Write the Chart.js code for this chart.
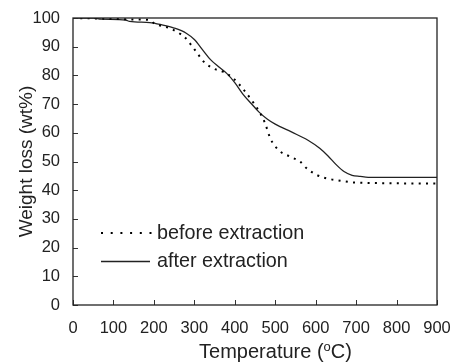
<!DOCTYPE html>
<html>
<head>
<meta charset="utf-8">
<script src="https://cdn.jsdelivr.net/npm/chart.js@4/dist/chart.umd.min.js"></script>
<style>
  html, body { margin: 0; padding: 0; background: #fff; }
  canvas { display: block; }
</style>
</head>
<body>
<canvas id="c" width="453" height="363"></canvas>
<script>
// ---- Data ----
const seriesNames = ['before extraction', 'after extraction'];

const beforeTemp   = [0, 100, 150, 190, 200, 240, 265, 275, 290, 306, 323, 347, 372, 397, 422, 446, 463, 475, 488, 508, 537, 562, 578, 603, 628, 661, 694, 750, 800, 900];
const beforeWeight = [100, 99.7, 99.5, 99.3, 98.2, 96.4, 94.5, 93.5, 91.0, 88.0, 84.8, 82.4, 81.2, 78.9, 75.0, 70.5, 66.8, 63.3, 58.0, 54.0, 51.7, 49.9, 47.6, 45.3, 44.1, 43.3, 42.7, 42.5, 42.4, 42.3];

const afterTemp   = [0, 50, 70, 130, 140, 190, 220, 250, 280, 300, 320, 340, 360, 380, 400, 420, 440, 460, 480, 500, 540, 580, 610, 630, 650, 670, 690, 710, 730, 900];
const afterWeight = [100, 100, 99.6, 99.3, 98.8, 98.4, 97.6, 96.5, 94.7, 92.5, 89.0, 85.5, 83.0, 80.7, 77.5, 73.5, 70.3, 67.2, 64.8, 63.0, 60.3, 57.5, 54.6, 52.0, 49.0, 46.5, 45.2, 44.8, 44.5, 44.5];

const xTicks = [0, 100, 200, 300, 400, 500, 600, 700, 800, 900];
const yTicks = [0, 10, 20, 30, 40, 50, 60, 70, 80, 90, 100];

const FONT = "'Liberation Sans', Arial, Helvetica, sans-serif";
const TEXT = '#222';

function pts(xs, ys) { return xs.map((x, i) => ({ x: x, y: ys[i] })); }

// Frame, inward ticks, legend and x-title with superscript
const decor = {
  id: 'decor',
  afterDraw(chart) {
    const ctx = chart.ctx;
    const a = chart.chartArea;
    const sx = chart.scales.x, sy = chart.scales.y;
    ctx.save();
    // inward tick marks
    ctx.strokeStyle = '#333';
    ctx.lineWidth = 1;
    ctx.beginPath();
    xTicks.forEach(v => {
      const px = Math.round(sx.getPixelForValue(v)) + 0.5;
      ctx.moveTo(px, a.bottom); ctx.lineTo(px, a.bottom - 5);
    });
    yTicks.forEach(v => {
      const py = Math.round(sy.getPixelForValue(v)) + 0.5;
      ctx.moveTo(a.left, py); ctx.lineTo(a.left + 5, py);
    });
    ctx.stroke();
    // frame
    ctx.strokeStyle = '#222';
    ctx.lineWidth = 1.3;
    ctx.strokeRect(a.left, a.top, a.right - a.left, a.bottom - a.top);

    // legend
    ctx.strokeStyle = '#000';
    ctx.lineWidth = 2;
    ctx.setLineDash([2, 7.7]);
    ctx.beginPath(); ctx.moveTo(101, 233); ctx.lineTo(152, 233); ctx.stroke();
    ctx.setLineDash([]);
    ctx.lineWidth = 1.3;
    ctx.strokeStyle = '#222';
    ctx.beginPath(); ctx.moveTo(101, 261.5); ctx.lineTo(150, 261.5); ctx.stroke();
    ctx.fillStyle = TEXT;
    ctx.font = '19.8px ' + FONT;
    ctx.textAlign = 'left';
    ctx.textBaseline = 'alphabetic';
    ctx.fillText(seriesNames[0], 157, 238.5);
    ctx.fillText(seriesNames[1], 157, 267);

    // x title with superscript "o"
    const base = 358;
    const main = 'Temperature (';
    const sup = 'o';
    const tail = 'C)';
    const big = '20px ' + FONT, small = '13px ' + FONT;
    ctx.font = big;
    const w1 = ctx.measureText(main).width;
    const w3 = ctx.measureText(tail).width;
    ctx.font = small;
    const w2 = ctx.measureText(sup).width;
    const total = w1 + w2 + w3;
    const x0 = 275.5 - total / 2;
    ctx.font = big;
    ctx.fillText(main, x0, base);
    ctx.font = small;
    ctx.fillText(sup, x0 + w1, base - 7.5);
    ctx.font = big;
    ctx.fillText(tail, x0 + w1 + w2, base);
    ctx.restore();
  }
};

new Chart(document.getElementById('c'), {
  type: 'line',
  data: {
    datasets: [
      {
        label: seriesNames[0],
        data: pts(beforeTemp, beforeWeight),
        borderColor: '#000',
        borderWidth: 2,
        borderDash: [2, 5.3],
        pointRadius: 0,
        fill: false,
        cubicInterpolationMode: 'monotone'
      },
      {
        label: seriesNames[1],
        data: pts(afterTemp, afterWeight),
        borderColor: '#222',
        borderWidth: 1.3,
        pointRadius: 0,
        fill: false,
        cubicInterpolationMode: 'monotone'
      }
    ]
  },
  options: {
    responsive: false,
    animation: false,
    devicePixelRatio: 1,
    layout: { padding: { left: 0, top: 18, right: 16, bottom: 0 } },
    plugins: { legend: { display: false }, tooltip: { enabled: false } },
    scales: {
      x: {
        type: 'linear',
        min: 0, max: 900,
        afterBuildTicks: s => { s.ticks = xTicks.map(v => ({ value: v })); },
        afterFit: s => { s.height = 58; s.paddingLeft = 0; s.paddingRight = 0; },
        grid: { display: false, drawTicks: false },
        border: { display: false },
        ticks: { color: TEXT, font: { family: FONT, size: 16.5 }, padding: 14, maxRotation: 0 }
      },
      y: {
        type: 'linear',
        min: 0, max: 100,
        afterBuildTicks: s => { s.ticks = yTicks.map(v => ({ value: v })); },
        afterFit: s => { s.width = 73; s.paddingTop = 0; s.paddingBottom = 0; },
        grid: { display: false, drawTicks: false },
        border: { display: false },
        ticks: { color: TEXT, font: { family: FONT, size: 16.5 }, padding: 13 },
        title: {
          display: true,
          text: 'Weight loss (wt%)',
          color: TEXT,
          font: { family: FONT, size: 19 },
          padding: { top: 15, bottom: 0 }
        }
      }
    }
  },
  plugins: [decor]
});
</script>
</body>
</html>
